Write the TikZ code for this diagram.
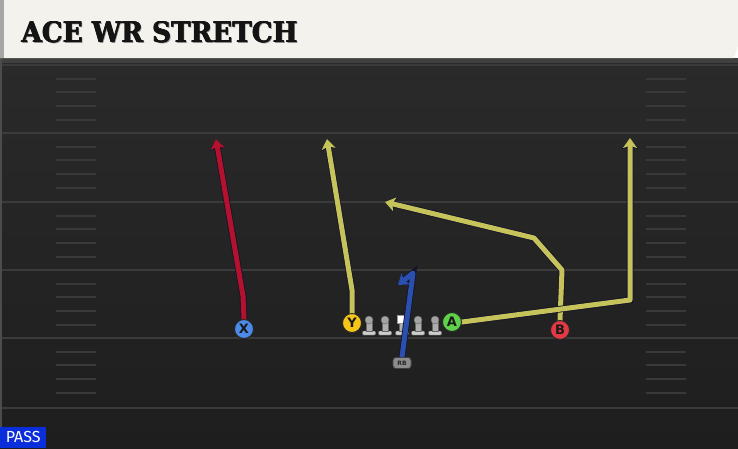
\documentclass[tikz,border=0pt]{standalone}
\usepackage{fontspec}
\usepackage{graphicx}
\usetikzlibrary{arrows.meta}
\newfontfamily\titlefont{DejaVu Serif}
\newfontfamily\passfont{Fira Sans}
\newfontfamily\lblfont{DejaVu Sans}
\definecolor{fieldtop}{HTML}{2A2A2A}
\definecolor{fieldbot}{HTML}{1E1E1E}
\definecolor{yardline}{HTML}{3B3B3B}
\definecolor{hashc}{HTML}{393939}
\definecolor{header}{HTML}{F4F2EC}
\definecolor{rred}{HTML}{B3112E}
\definecolor{ryel}{HTML}{C6C35A}
\definecolor{rblue}{HTML}{2A4FAE}
\definecolor{outl}{HTML}{14142A}
\definecolor{pX}{HTML}{4C8AE8}
\definecolor{pY}{HTML}{F5C518}
\definecolor{pA}{HTML}{5ED04A}
\definecolor{pB}{HTML}{E23A45}
\definecolor{passblue}{HTML}{0B2EDB}
\definecolor{lgray}{HTML}{CDCDCD}
\tikzset{
  route/.style={draw=#1, line width=5pt, line join=round, line cap=round,
    -{Stealth[length=10pt,width=14pt,inset=2.5pt]},
    preaction={draw=outl, line width=6.6pt, -{Stealth[length=11pt,width=16pt,inset=2.5pt]}}},
  player/.style={circle, draw=black!85, line width=0.9pt, fill=#1, minimum size=19pt,
    inner sep=0pt, font=\lblfont\bfseries\fontsize{13}{13}\selectfont, text=black!90},
  rbtag/.style={rectangle, rounded corners=3pt, draw=black!75, line width=0.6pt, fill=black!45,
    minimum width=18pt, minimum height=11pt, inner sep=0pt,
    font=\lblfont\bfseries\fontsize{6}{6}\selectfont, text=black!85},
  lineman/.pic={
    \fill[lgray, draw=black!60, line width=0.4pt, rounded corners=1pt] (-6.5,11) rectangle (6.5,15);
    \fill[lgray!85!black, draw=black!60, line width=0.4pt] (-2.7,2) rectangle (2.7,11);
    \fill[lgray!80!black, draw=black!60, line width=0.4pt] (0,0) circle (4);
  },
  centerman/.pic={
    \fill[lgray, draw=black!60, line width=0.4pt, rounded corners=1pt] (-6.5,11) rectangle (6.5,15);
    \fill[lgray!85!black, draw=black!60, line width=0.4pt] (-2.7,2) rectangle (2.7,11);
    \fill[white, draw=black!40, line width=0.4pt] (-5,-5) rectangle (5,3);
  }
}
\begin{document}
\begin{tikzpicture}[x=1pt,y=-1pt]
\useasboundingbox (0,0) rectangle (738,448);
% field
\shade[top color=fieldtop, bottom color=fieldbot] (0,58) rectangle (738,448);
\fill[black!75] (0,58) rectangle (738,63);
\fill[black!70] (0,58) rectangle (2,448);
% yard lines
\foreach \y in {65,133,202,270,338,408}
  \draw[yardline, line width=2pt] (2,\y) -- (738,\y);
% hash marks
\foreach \b in {65,133,202,270,338}
  \foreach \o in {14,27,41,55} {
    \draw[hashc, line width=2pt] (56,\b+\o) -- (96,\b+\o);
    \draw[hashc, line width=2pt] (646,\b+\o) -- (686,\b+\o);
  }
% header
\fill[header] (0,0) -- (738,0) -- (738,46) -- (734,58) -- (0,58) -- cycle;
\fill[black!35] (0,0) rectangle (4,58);
\node[anchor=south west, inner sep=0pt, text=black!45] (titleshadow) at (22.4,44.4)
  {\resizebox{276pt}{21pt}{\titlefont\bfseries ACE WR STRETCH}};
\foreach \dx/\dy in {0/0,0.6/0,0.3/0.4,0.6/0.4}
  \node[anchor=south west, inner sep=0pt, text=black!92] at (21+\dx,43+\dy)
    {\resizebox{276pt}{21pt}{\titlefont\bfseries ACE WR STRETCH}};
% linemen
\pic at (369,320) {lineman};
\pic at (385,320) {lineman};
\pic at (402,320) {centerman};
\pic at (418,320) {lineman};
\pic at (435,320) {lineman};
% players (placed first for names)
\node[player=pX] (X) at (244,329) {X};
\node[player=pY] (Y) at (352,323) {Y};
\node[player=pA] (A) at (452,322) {A};
\node[player=pB] (B) at (560,330) {B};
\node[rbtag] (RB) at (402,363) {RB};
% route coordinates
\coordinate (xb) at (243,296);
\coordinate (xe) at (216,139);
\coordinate (yb) at (352,290);
\coordinate (ye) at (327,139);
\coordinate (ab) at (630,300);
\coordinate (ae) at (630,138);
\coordinate (bb1) at (562,270);
\coordinate (bb2) at (534,238);
\coordinate (be) at (385,202);
\coordinate (rbb) at (413,273);
\coordinate (rbe) at (398,285);
% routes
\draw[route=rred] (X.north) -- (xb) -- (xe);
\draw[route=ryel] (Y.north) -- (yb) -- (ye);
\draw[route=ryel] (B.north) -- (bb1) -- (bb2) -- (be);
\draw[route=ryel] (A.east) -- (ab) -- (ae);
\draw[route=rblue] (RB.north) -- (rbb) -- (rbe);
% players on top
\node[player=pX] at (X) {X};
\node[player=pY] at (Y) {Y};
\node[player=pA] at (A) {A};
\node[player=pB] at (B) {B};
\node[rbtag] at (RB) {RB};
% pass label
\node[fill=passblue, anchor=south west, minimum width=46pt, minimum height=21pt, inner sep=0pt,
  text=white, font=\passfont\fontsize{16}{16}\selectfont] (pass) at (0,448) {PASS};
\end{tikzpicture}
\end{document}
